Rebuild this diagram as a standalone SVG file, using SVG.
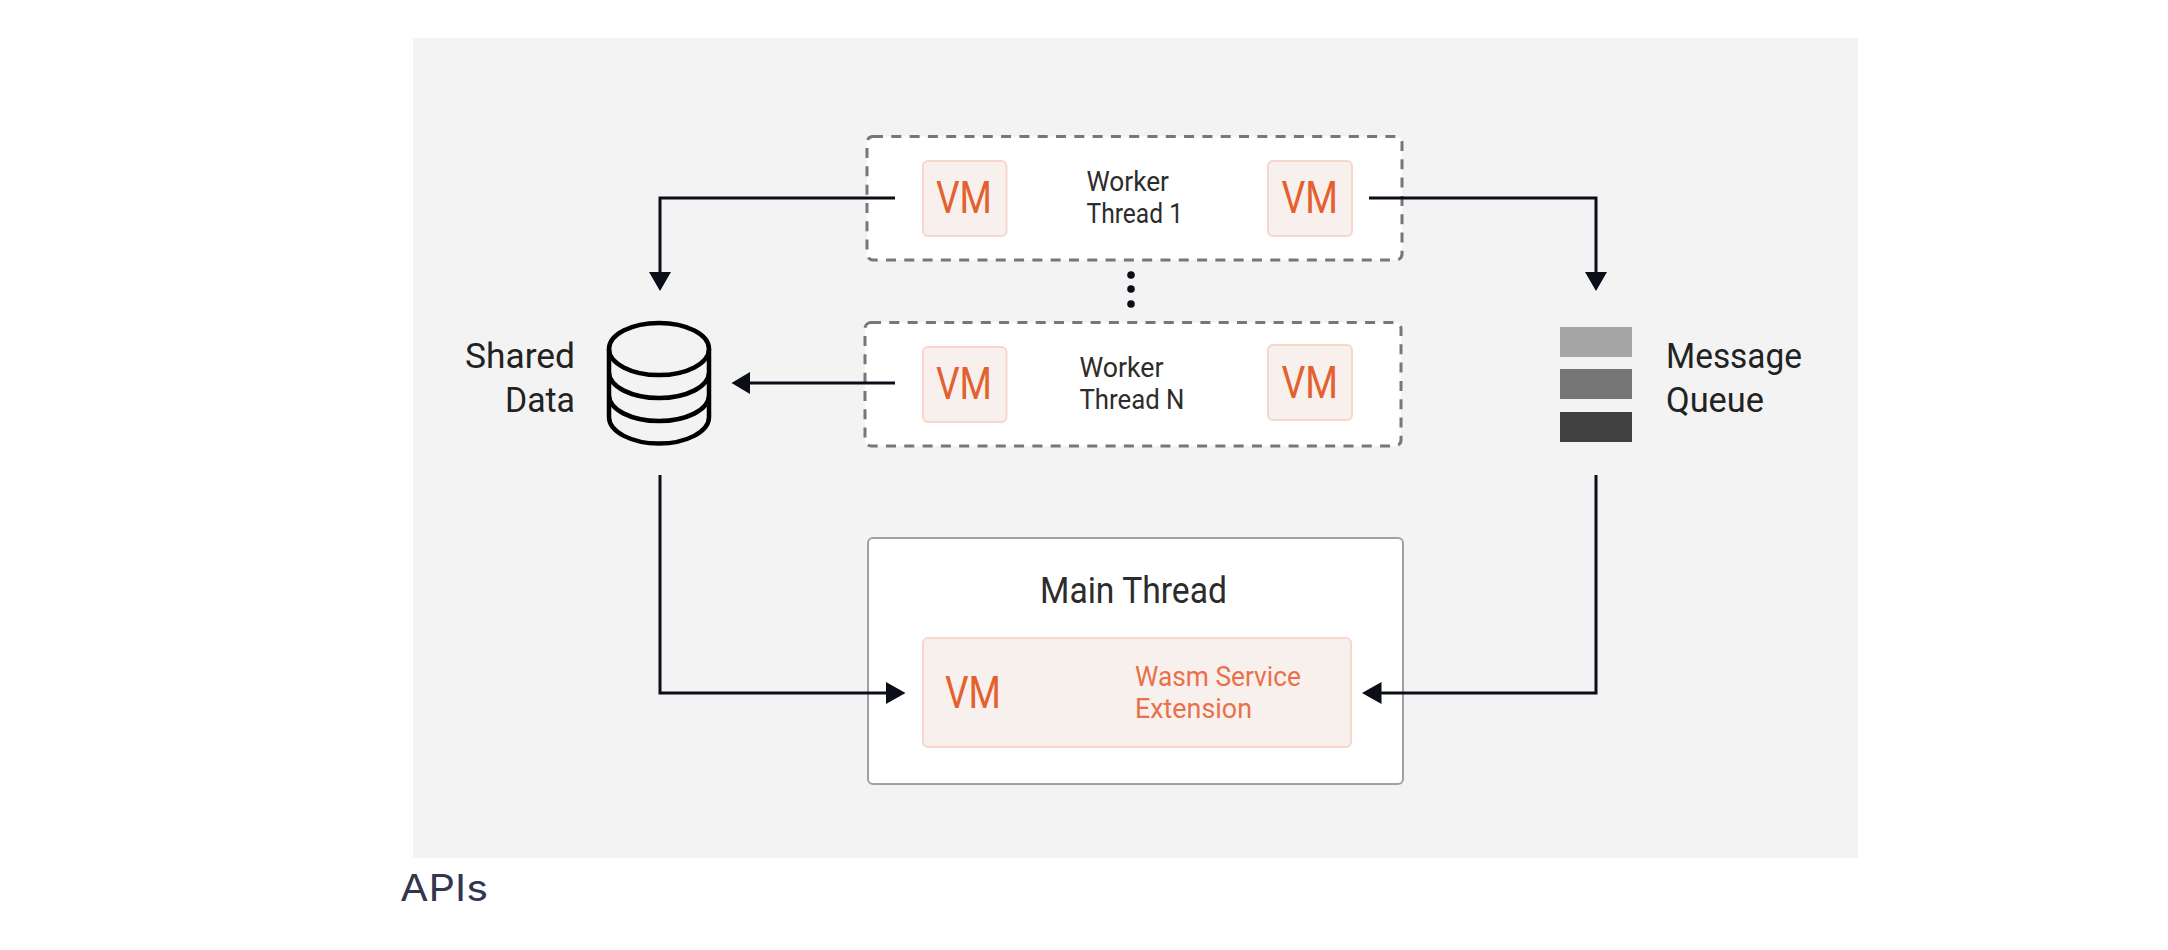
<svg xmlns="http://www.w3.org/2000/svg" width="2168" height="950" viewBox="0 0 2168 950">
<style>
text{font-family:"Roboto","Liberation Sans",sans-serif}
.worker{fill:#fff;stroke:#777;stroke-width:3;stroke-dasharray:10 8.300}
.vmbox{fill:#f8f0ed;stroke:#f8d6ca;stroke-width:2}
.vm{fill:#e3602f;font-size:44px}
.lbl{fill:#2c2c2c;font-size:27px}
.big{fill:#222;font-size:35px}
.org{fill:#e8714a;font-size:27px}
.conn{fill:none;stroke:#0b0e17;stroke-width:3}
.head{fill:#0b0e17}
.db{fill:none;stroke:#000;stroke-width:4.500}
</style>
<rect id="panel" x="413" y="38" width="1445" height="820" fill="#f3f3f3"/>
<g id="worker-1">
<rect class="worker" x="867" y="136.500" width="535" height="123.500" rx="6"/>
<rect class="vmbox" x="923" y="161" width="83.500" height="75" rx="5"/>
<text class="vm" x="936" y="213" textLength="56" lengthAdjust="spacingAndGlyphs">VM</text>
<rect class="vmbox" x="1268" y="161" width="84" height="75" rx="5"/>
<text class="vm" x="1281.500" y="213" textLength="56.500" lengthAdjust="spacingAndGlyphs">VM</text>
<text class="lbl" x="1086.500" y="190.500" textLength="82.500" lengthAdjust="spacingAndGlyphs">Worker</text>
<text class="lbl" x="1086.500" y="222.500" textLength="96.500" lengthAdjust="spacingAndGlyphs">Thread 1</text>
</g>
<g id="dots" fill="#0b0e17">
<circle cx="1131" cy="275" r="3.800"/>
<circle cx="1131" cy="289" r="3.800"/>
<circle cx="1131" cy="304" r="3.800"/>
</g>
<g id="worker-n">
<rect class="worker" x="865" y="322.500" width="536" height="123.500" rx="6"/>
<rect class="vmbox" x="923" y="347" width="83.500" height="75" rx="5"/>
<text class="vm" x="936" y="399" textLength="56" lengthAdjust="spacingAndGlyphs">VM</text>
<rect class="vmbox" x="1268" y="345" width="84" height="75" rx="5"/>
<text class="vm" x="1281.500" y="397.500" textLength="56.500" lengthAdjust="spacingAndGlyphs">VM</text>
<text class="lbl" x="1079.500" y="376.500" textLength="84" lengthAdjust="spacingAndGlyphs">Worker</text>
<text class="lbl" x="1079.500" y="408.500" textLength="105" lengthAdjust="spacingAndGlyphs">Thread N</text>
</g>
<g id="shared-data">
<text class="big" x="465" y="368" textLength="110" lengthAdjust="spacingAndGlyphs">Shared</text>
<text class="big" x="505" y="412" textLength="70" lengthAdjust="spacingAndGlyphs">Data</text>
<ellipse class="db" cx="659" cy="349" rx="50" ry="26"/>
<path class="db" d="M609 349V417C609 432 632 443.500 659 443.500S709 432 709 417V349M609 372C609 387 632 398 659 398S709 387 709 372M609 395C609 410 632 421 659 421S709 410 709 395"/>
</g>
<g id="message-queue">
<rect x="1560" y="327" width="72" height="30" fill="#a6a6a6"/>
<rect x="1560" y="369" width="72" height="30" fill="#767676"/>
<rect x="1560" y="412" width="72" height="30" fill="#404040"/>
<text class="big" x="1666" y="368" textLength="136" lengthAdjust="spacingAndGlyphs">Message</text>
<text class="big" x="1666" y="412" textLength="98" lengthAdjust="spacingAndGlyphs">Queue</text>
</g>
<g id="main-thread">
<rect x="868" y="538" width="535" height="246" rx="5" fill="#fff" stroke="#a0a0a0" stroke-width="2"/>
<text x="1040" y="603" font-size="36" fill="#2c2c2c" textLength="187" lengthAdjust="spacingAndGlyphs">Main Thread</text>
<rect class="vmbox" x="923" y="638" width="428" height="109" rx="5"/>
<text class="vm" x="945" y="708" textLength="56" lengthAdjust="spacingAndGlyphs">VM</text>
<text class="org" x="1135" y="686" textLength="166" lengthAdjust="spacingAndGlyphs">Wasm Service</text>
<text class="org" x="1135" y="718" textLength="117" lengthAdjust="spacingAndGlyphs">Extension</text>
</g>
<g id="connectors">
<path class="conn" d="M895 198H660V275"/>
<path class="head" d="M649 272H671L660 291Z"/>
<path class="conn" d="M895 383H745"/>
<path class="head" d="M750 372V394L731.500 383Z"/>
<path class="conn" d="M1369 198H1596V275"/>
<path class="head" d="M1585 272H1607L1596 291Z"/>
<path class="conn" d="M660 475V693H890"/>
<path class="head" d="M886 682V704L905.500 693Z"/>
<path class="conn" d="M1596 475V693H1378"/>
<path class="head" d="M1381.500 682V704L1362 693Z"/>
</g>
<text id="caption" x="400" y="901" font-size="37" fill="#33364f" style="font-family:'Inter','Liberation Sans',sans-serif;font-weight:400" textLength="88" lengthAdjust="spacingAndGlyphs">APIs</text>
</svg>
